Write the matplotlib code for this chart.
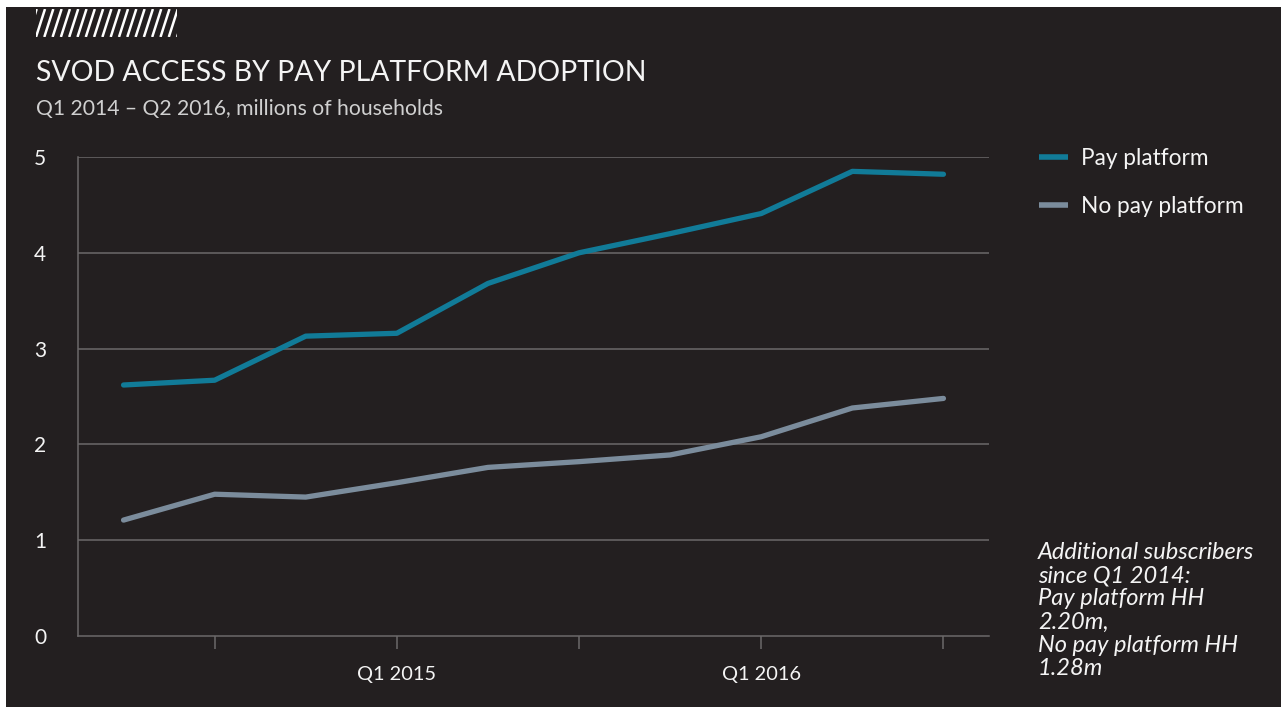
import matplotlib
matplotlib.use("Agg")
import matplotlib.pyplot as plt
from matplotlib.patches import Rectangle
from matplotlib.lines import Line2D

# ---- data ----
quarters = ["Q1 2014", "Q2 2014", "Q3 2014", "Q4 2014", "Q1 2015",
            "Q2 2015", "Q3 2015", "Q4 2015", "Q1 2016", "Q2 2016"]
pay_platform = [2.62, 2.67, 3.13, 3.16, 3.68, 4.00, 4.20, 4.41, 4.85, 4.82]
no_pay_platform = [1.21, 1.48, 1.45, 1.60, 1.76, 1.82, 1.89, 2.08, 2.38, 2.48]
series_names = ["Pay platform", "No pay platform"]
yticks = [0, 1, 2, 3, 4, 5]
xtick_pos = [1, 3, 5, 7, 9]
xtick_labels = ["", "Q1 2015", "", "Q1 2016", ""]

title = "SVOD ACCESS BY PAY PLATFORM ADOPTION"
subtitle = "Q1 2014 \u2013 Q2 2016, millions of households"
note = ("Additional subscribers\nsince Q1 2014:\nPay platform HH\n2.20m,\n"
        "No pay platform HH\n1.28m")

BG = "#231f20"
GRID = "#6b696a"
PAY = "#117b98"
NOPAY = "#7b8c9c"
TXT = "#f4f4f4"
FONT = "Lato"

W, H = 1281, 707
fig = plt.figure(figsize=(W / 100, H / 100), dpi=100)
fig.patch.set_facecolor("white")

def fx(x):
    return x / W

def fy(y):
    return 1 - y / H

# dark panel (white margin top/left)
fig.add_artist(Rectangle((fx(6), 0), 1 - fx(6), fy(7), transform=fig.transFigure,
                         facecolor=BG, edgecolor="none", zorder=0))

# hatch decoration
clip = Rectangle((fx(36), fy(37)), fx(177) - fx(36), fy(9) - fy(37),
                 transform=fig.transFigure, facecolor="none", edgecolor="none")
fig.add_artist(clip)
for i in range(-2, 20):
    xb = 36 + i * 8.3
    ln = Line2D([fx(xb), fx(xb + 9)], [fy(37), fy(9)], transform=fig.transFigure,
                color="white", lw=1.8, solid_capstyle="butt")
    ln.set_clip_path(clip)
    fig.add_artist(ln)

# axes
ax = fig.add_axes([fx(78), fy(636), fx(989) - fx(78), fy(157) - fy(636)])
ax.set_facecolor(BG)
x = list(range(len(quarters)))
ax.plot(x, pay_platform, color=PAY, lw=3.8, solid_capstyle="round",
        solid_joinstyle="round", label=series_names[0], zorder=3)
ax.plot(x, no_pay_platform, color=NOPAY, lw=3.8, solid_capstyle="round",
        solid_joinstyle="round", label=series_names[1], zorder=3)
ax.set_xlim(-0.5, 9.5)
ax.set_ylim(0, 5)
ax.set_yticks(yticks)
ax.set_yticklabels([str(v) for v in yticks])
for v in yticks[1:]:
    ax.axhline(v, color=GRID, lw=1.1, zorder=1)
ax.set_xticks(xtick_pos)
ax.set_xticklabels(xtick_labels)
for s in ["top", "right"]:
    ax.spines[s].set_visible(False)
for s in ["left", "bottom"]:
    ax.spines[s].set_color(GRID)
    ax.spines[s].set_linewidth(1.1)
ax.tick_params(axis="y", length=0, pad=23, labelsize=15, labelcolor=TXT)
ax.tick_params(axis="x", length=9.5, width=1.1, color=GRID, pad=12,
               labelsize=14.4, labelcolor=TXT, direction="out")
for lab in ax.get_xticklabels() + ax.get_yticklabels():
    lab.set_fontfamily(FONT)

# legend
leg = ax.legend(loc="upper left", bbox_to_anchor=(fx(1030), fy(139)),
                bbox_transform=fig.transFigure, frameon=False,
                prop={"family": FONT, "size": 16.3}, handlelength=1.3,
                handletextpad=0.55, labelspacing=1.2, borderaxespad=0)
for t in leg.get_texts():
    t.set_color(TXT)
for h in leg.get_lines():
    h.set_linewidth(4)
    h.set_solid_capstyle("butt")

# titles
fig.text(fx(36), fy(81), title, fontfamily=FONT, fontweight="normal",
         fontsize=20.4, color=TXT, va="baseline", ha="left")
fig.text(fx(36), fy(115), subtitle, fontfamily=FONT, fontweight="normal",
         fontsize=15.2, color="#d0d0d0", va="baseline", ha="left")

# note
fig.text(fx(1038), fy(542), note, fontfamily=FONT, style="italic",
         fontsize=17, color=TXT, va="top", ha="left", linespacing=1.13,
         multialignment="left")

fig.savefig("out.png", dpi=100, facecolor=fig.get_facecolor())
